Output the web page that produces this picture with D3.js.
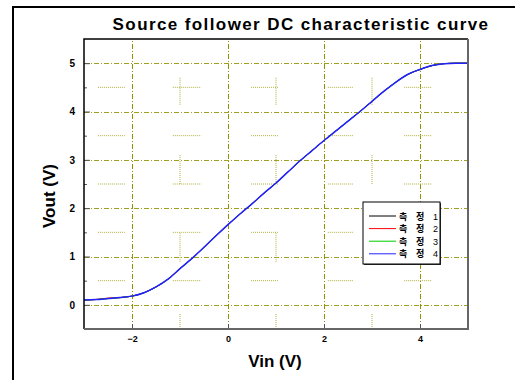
<!DOCTYPE html>
<html>
<head>
<meta charset="utf-8">
<script src="https://cdn.jsdelivr.net/npm/d3@7"></script>
<style>
  body { margin:0; background:#fff; }
  svg { display:block; font-family:"Liberation Sans", Arial, sans-serif; }
</style>
</head>
<body>
<svg id="chart" width="515" height="380"></svg>
<script>
// measured data (Vin sweep, four measurements overlapping)
var vin   = [-3,-2.75,-2.5,-2.25,-2,-1.75,-1.5,-1.25,-1,-0.75,-0.5,-0.25,0,0.25,0.5,0.75,1,1.25,1.5,1.75,2,2.25,2.5,2.75,3,3.25,3.5,3.75,4,4.25,4.5,4.75,5];
var vout1 = [0.10,0.11,0.13,0.15,0.18,0.25,0.37,0.53,0.75,0.96,1.19,1.43,1.66,1.88,2.09,2.31,2.52,2.75,2.98,3.19,3.40,3.60,3.80,4.00,4.21,4.42,4.61,4.77,4.87,4.95,4.99,5.00,5.00];
var vout2 = [0.10,0.11,0.14,0.15,0.18,0.25,0.37,0.53,0.75,0.96,1.19,1.43,1.66,1.88,2.09,2.31,2.52,2.75,2.98,3.19,3.40,3.60,3.80,4.00,4.21,4.42,4.61,4.77,4.87,4.95,4.99,5.00,5.00];
var vout3 = [0.10,0.11,0.13,0.15,0.18,0.25,0.37,0.53,0.75,0.96,1.19,1.43,1.66,1.88,2.09,2.31,2.52,2.75,2.98,3.19,3.40,3.60,3.80,4.00,4.21,4.42,4.61,4.77,4.87,4.95,4.99,5.00,5.00];
var vout4 = [0.10,0.11,0.13,0.15,0.18,0.25,0.37,0.53,0.75,0.96,1.19,1.43,1.66,1.88,2.09,2.31,2.52,2.75,2.98,3.19,3.40,3.60,3.80,4.00,4.21,4.42,4.61,4.77,4.87,4.95,4.99,5.00,5.00];

var seriesNames  = ["측정 1","측정 2","측정 3","측정 4"];
var seriesColors = ["#000","#f00","#0c0","#22f"];
var seriesWidths = [1,1,1,1.5];

var xTicks = [-2,0,2,4];
var yTicks = [0,1,2,3,4,5];
var yMinor = [-0.5,0.5,1.5,2.5,3.5,4.5];

// short dotted marks of the original minor grid
var minorRows = [0.5,1.5,2.5,3.5,4.5];
var rowSegs   = [[-2.71,-2.15],[-1.15,-0.56],[0.48,1.04],[2.08,2.6],[3.67,4.25]];
var minorCols = [-1,1,3];
var colSegs   = [[4.14,4.72],[2.5,3.11],[0.89,1.49],[-0.5,-0.17]];

var svg = d3.select("#chart");
var x = d3.scaleLinear().domain([-3,5]).range([84,468]);
var y = d3.scaleLinear().domain([-0.5,5.5]).range([329,39]);

// outer frame
svg.append("path").attr("d","M13,380V7H515").attr("fill","none").attr("stroke","#000").attr("stroke-width",2);

svg.append("rect").attr("x",84).attr("y",39).attr("width",384).attr("height",290).attr("fill","#fff");

var grid = svg.append("g");
grid.selectAll(".hg").data(yTicks).enter().append("line")
    .attr("x1",x(-3)).attr("x2",x(5)).attr("y1",d=>Math.round(y(d))+0.5).attr("y2",d=>Math.round(y(d))+0.5)
    .attr("stroke","#a0a020").attr("stroke-dasharray","5,2,1,2").attr("stroke-width",1);
grid.selectAll(".vg").data(xTicks).enter().append("line")
    .attr("y1",y(-0.5)).attr("y2",y(5.5)).attr("x1",d=>Math.round(x(d))+0.5).attr("x2",d=>Math.round(x(d))+0.5)
    .attr("stroke","#909000").attr("stroke-dasharray","5,2,1,2").attr("stroke-width",1);

var segs = [];
minorRows.forEach(function(r){ rowSegs.forEach(function(s){ segs.push({x1:s[0],x2:s[1],y1:r,y2:r}); }); });
minorCols.forEach(function(c){ colSegs.forEach(function(s){ segs.push({x1:c,x2:c,y1:s[0],y2:s[1]}); }); });
grid.selectAll(".mg").data(segs).enter().append("line")
    .attr("x1",d=>x(d.x1)).attr("x2",d=>x(d.x2)).attr("y1",d=>y(d.y1)).attr("y2",d=>y(d.y2))
    .attr("stroke","#b0b040").attr("stroke-dasharray","1,1").attr("stroke-width",1);

// curves
var line = d3.line().x((d,i)=>x(vin[i])).y(d=>y(d)).curve(d3.curveMonotoneX);
svg.selectAll(".curve").data([vout1,vout2,vout3,vout4]).enter().append("path")
    .attr("d",line).attr("fill","none")
    .attr("stroke",(d,i)=>seriesColors[i]).attr("stroke-width",(d,i)=>seriesWidths[i]);

// axes
svg.append("g").attr("transform","translate(84,0)")
    .call(d3.axisLeft(y).tickValues(yTicks).tickSize(-6).tickPadding(9).tickFormat(d3.format("d")))
    .selectAll(".tick text").attr("font-size",10);
svg.append("g").attr("transform","translate(84,0)")
    .call(d3.axisLeft(y).tickValues(yMinor).tickSize(-3).tickFormat(""));
svg.append("g").attr("transform","translate(0,329)")
    .call(d3.axisBottom(x).tickValues(xTicks).tickSize(-5).tickPadding(7).tickFormat(d3.format("d")))
    .selectAll(".tick text").attr("font-size",9);
svg.selectAll(".domain").remove();
svg.selectAll(".tick line").attr("stroke","#555");
svg.selectAll(".tick text").attr("font-weight","bold").attr("fill","#000")
    .attr("font-family","'Liberation Sans', Arial, sans-serif");

// plot box
svg.append("path").attr("d","M84,329V39H468").attr("fill","none").attr("stroke","#000").attr("stroke-width",1.5);
svg.append("path").attr("d","M84,329H468V39").attr("fill","none").attr("stroke","#666").attr("stroke-width",2);

// titles
svg.append("text").attr("x",301).attr("y",30).attr("text-anchor","middle")
    .attr("font-size",17).attr("font-weight","bold").attr("letter-spacing","1.4px")
    .text("Source follower DC characteristic curve");
svg.append("text").attr("x",275).attr("y",367).attr("text-anchor","middle")
    .attr("font-size",17).attr("font-weight","bold").text("Vin (V)");
svg.append("text").attr("transform","translate(55,196) rotate(-90)").attr("text-anchor","middle")
    .attr("font-size",17).attr("font-weight","bold").text("Vout (V)");

// legend
var lg = svg.append("g").attr("transform","translate(363,202)");
lg.append("rect").attr("x",1).attr("y",1).attr("width",77).attr("height",62).attr("fill","#333");
lg.append("rect").attr("width",77).attr("height",62).attr("fill","#fff").attr("stroke","#000").attr("stroke-width",1);
var items = lg.selectAll(".item").data(seriesNames).enter().append("g")
    .attr("transform",(d,i)=>"translate(0,"+(14+i*12.6)+")");
items.append("line").attr("x1",6).attr("x2",33).attr("stroke",(d,i)=>seriesColors[i]).attr("stroke-width",1);
var t = items.append("text").attr("y",3.5).attr("font-size",9).attr("font-weight","bold")
    .attr("font-family","'Noto Sans CJK KR', sans-serif");
t.append("tspan").attr("x",36).text(d=>d.split(" ")[0][0]);
t.append("tspan").attr("x",53).text(d=>d.split(" ")[0][1]);
t.append("tspan").attr("x",70).attr("font-weight","normal").attr("font-family","'Liberation Sans', Arial, sans-serif").text(d=>d.split(" ")[1]);
</script>
</body>
</html>
